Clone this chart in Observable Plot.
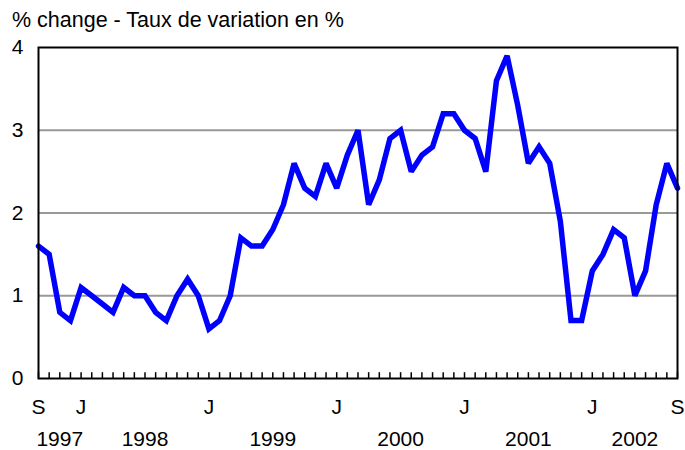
<!DOCTYPE html>
<html>
<head>
<meta charset="utf-8">
<script src="https://cdn.jsdelivr.net/npm/d3@7"></script>
<script src="https://cdn.jsdelivr.net/npm/@observablehq/plot@0.6"></script>
<style>
  body { margin: 0; background: #fff; font-family: "Liberation Sans", Arial, sans-serif; }
  #title { height: 36px; font-size: 21.5px; padding-left: 12px; line-height: 40px; color: #000; white-space: nowrap; overflow: visible; }
</style>
</head>
<body>
<div id="title">% change - Taux de variation en %</div>
<div id="chart"></div>
<script>
// Monthly values, Sep 1997 to Sep 2002 (index 0 = Sep 1997)
const values = [
  1.6, 1.5, 0.8, 0.7,                                    // Sep-Dec 1997
  1.1, 1.0, 0.9, 0.8, 1.1, 1.0, 1.0, 0.8, 0.7, 1.0, 1.2, 1.0, // 1998
  0.6, 0.7, 1.0, 1.7, 1.6, 1.6, 1.8, 2.1, 2.6, 2.3, 2.2, 2.6, // 1999
  2.3, 2.7, 3.0, 2.1, 2.4, 2.9, 3.0, 2.5, 2.7, 2.8, 3.2, 3.2, // 2000
  3.0, 2.9, 2.5, 3.6, 3.9, 3.3, 2.6, 2.8, 2.6, 1.9, 0.7, 0.7, // 2001
  1.3, 1.5, 1.8, 1.7, 1.0, 1.3, 2.1, 2.6, 2.3             // Jan-Sep 2002
];
const monthLabels = ["S", "J", "J", "J", "J", "J", "S"];
const monthLabelPos = [0, 4, 16, 28, 40, 52, 60];
const yearLabels = ["1997", "1998", "1999", "2000", "2001", "2002"];
const yearLabelPos = [2, 10, 22, 34, 46, 56];
const yTicks = [0, 1, 2, 3, 4];
const gridValues = [1, 2, 3];

const data = values.map((v, i) => ({i, v}));
const monthIdx = values.map((v, i) => i);

const chart = Plot.plot({
  width: 685,
  height: 414,
  marginLeft: 38,
  marginRight: 8,
  marginTop: 11,
  marginBottom: 72,
  style: { fontFamily: "'Liberation Sans', Arial, sans-serif", fontSize: "21px", color: "#000", background: "#fff", overflow: "visible" },
  x: { type: "linear", domain: [0, 60] },
  y: { domain: [0, 4] },
  marks: [
    Plot.ruleY(gridValues, { stroke: "#999", strokeWidth: 2 }),
    Plot.ruleX(monthIdx, { y1: 0, y2: 0.07, stroke: "#000", strokeWidth: 1.5 }),
    Plot.line(data, { x: "i", y: "v", stroke: "#0000ff", strokeWidth: 5.5, strokeLinejoin: "miter", strokeMiterlimit: 2 }),
    Plot.frame({ stroke: "#000", strokeWidth: 2 }),
    Plot.axisY({ ticks: yTicks, tickSize: 0, tickPadding: 15, tickFormat: d => String(d), fontSize: 21, label: null }),
    Plot.axisX({ ticks: monthLabelPos, tickSize: 0, tickPadding: 21, tickFormat: (d, k) => monthLabels[k], fontSize: 21, label: null }),
    Plot.axisX({ ticks: yearLabelPos, tickSize: 0, tickPadding: 53, tickFormat: (d, k) => yearLabels[k], fontSize: 21, label: null })
  ]
});
document.getElementById("chart").appendChild(chart);
</script>
</body>
</html>
